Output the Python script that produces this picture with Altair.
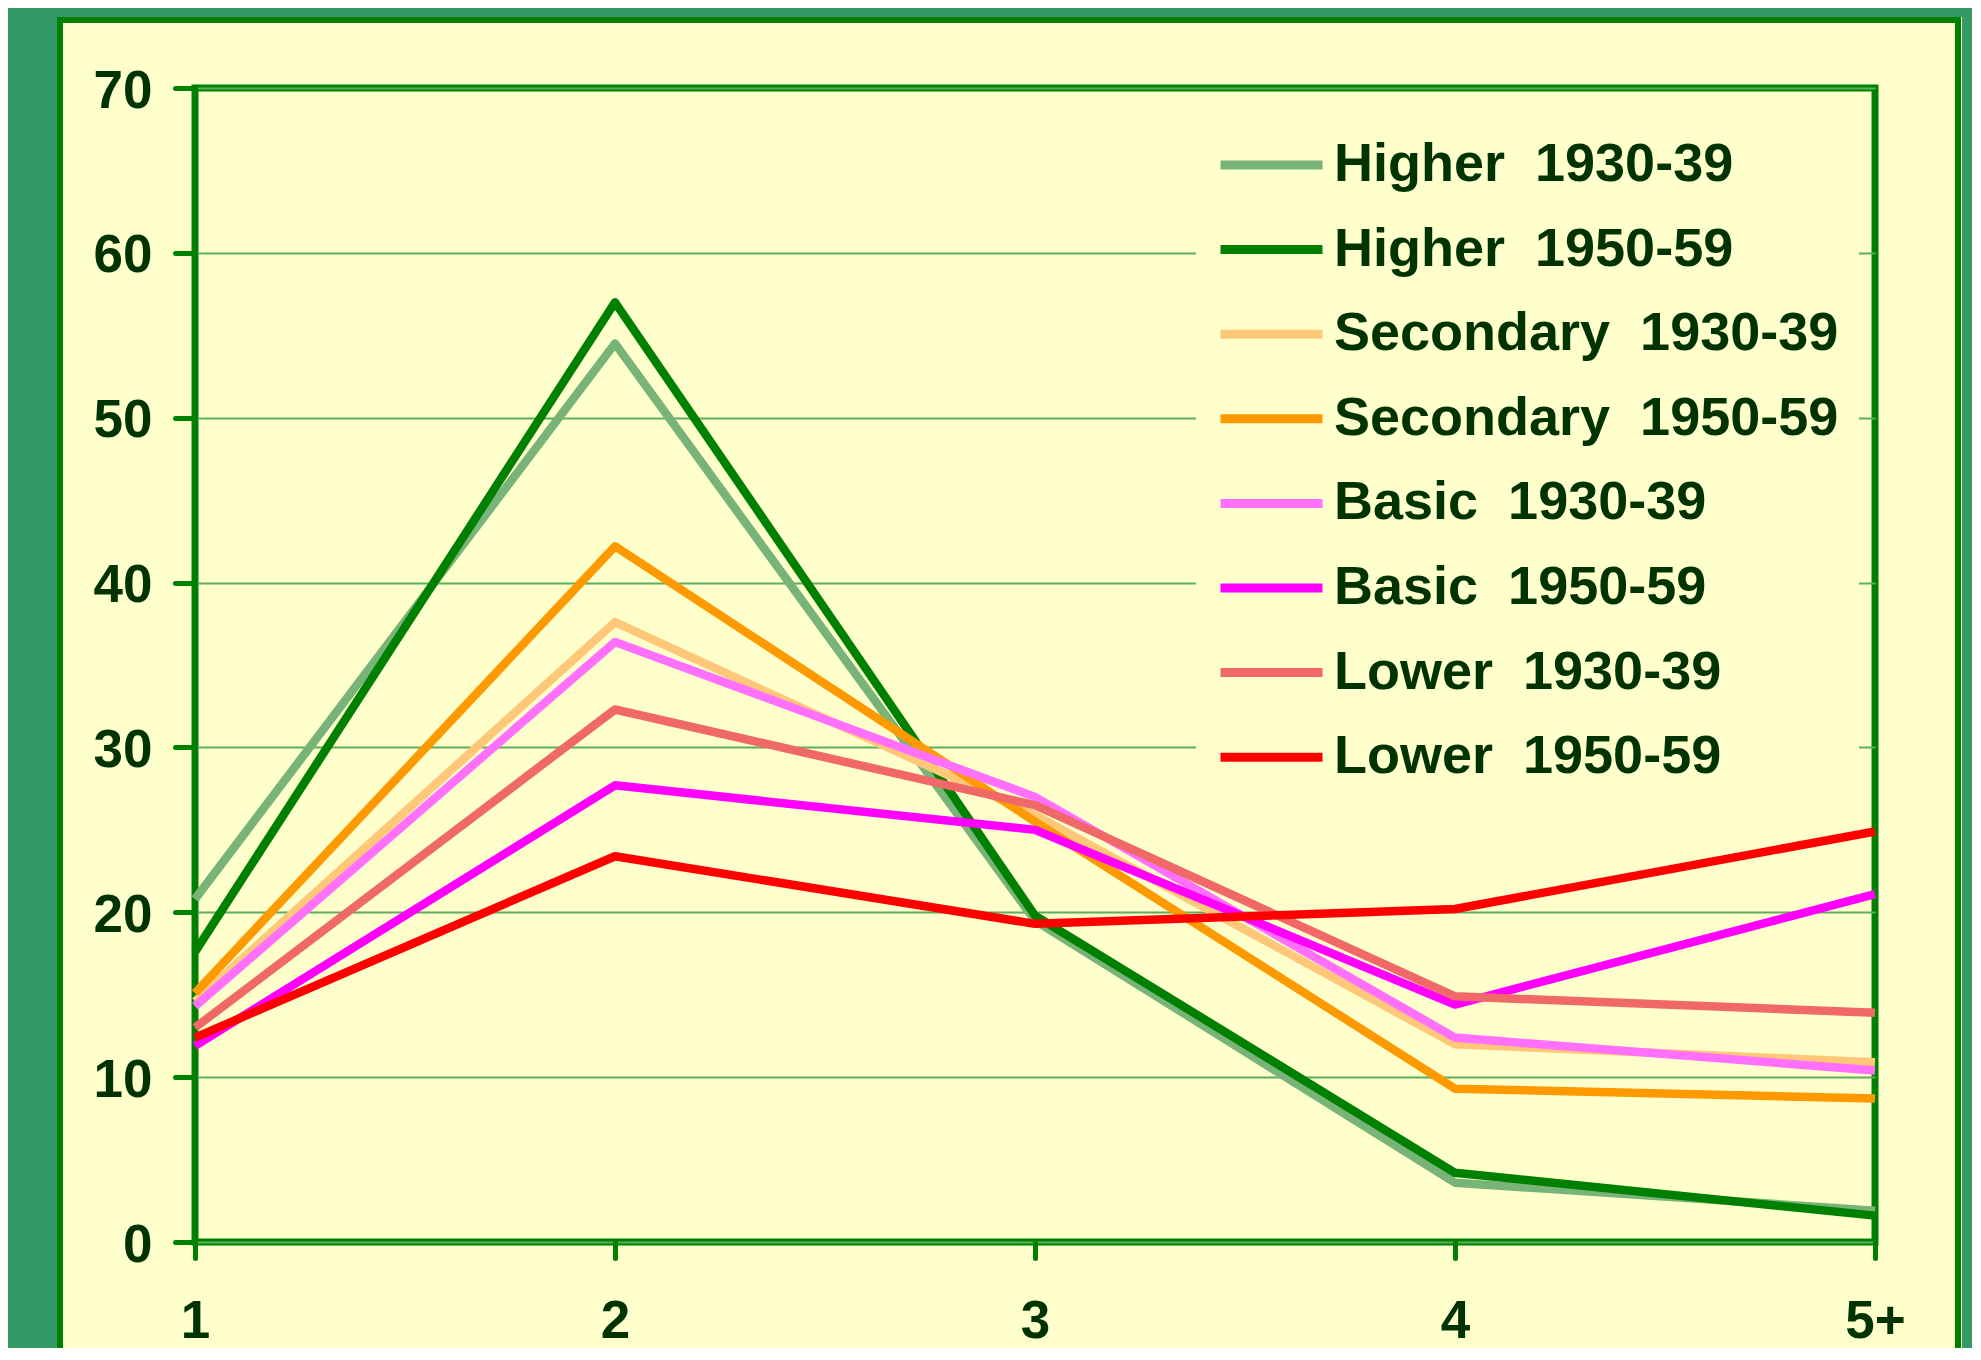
import altair as alt
import pandas as pd

# ---- data ----
categories = ["1", "2", "3", "4", "5+"]
series = [
    "Higher\u00a0 1930-39",
    "Higher\u00a0 1950-59",
    "Secondary\u00a0 1930-39",
    "Secondary\u00a0 1950-59",
    "Basic\u00a0 1930-39",
    "Basic\u00a0 1950-59",
    "Lower\u00a0 1930-39",
    "Lower\u00a0 1950-59",
]
higher_1930 = [20.8, 54.5, 19.5, 3.6, 1.9]
higher_1950 = [17.6, 57.0, 19.8, 4.2, 1.6]
secondary_1930 = [14.6, 37.6, 25.9, 12.0, 10.9]
secondary_1950 = [15.1, 42.2, 25.5, 9.3, 8.7]
basic_1930 = [14.3, 36.4, 27.0, 12.4, 10.4]
basic_1950 = [11.9, 27.7, 25.0, 14.4, 21.1]
lower_1930 = [13.0, 32.3, 26.5, 14.9, 13.9]
lower_1950 = [12.4, 23.4, 19.3, 20.2, 24.9]
colors = ["#78B478", "#008000", "#FFC878", "#FF9900",
          "#FF70FF", "#FF00FF", "#F06868", "#FF0000"]

all_values = [higher_1930, higher_1950, secondary_1930, secondary_1950,
              basic_1930, basic_1950, lower_1930, lower_1950]

rows = []
for name, vals in zip(series, all_values):
    for c, v in zip(categories, vals):
        rows.append({"Birth order": c, "Percent": v, "Series": name})
df = pd.DataFrame(rows)

FONT = "Liberation Sans"
TEXT = "#003300"
GREEN = "#008000"
OUTER = "#339966"
PANEL = "#FFFFCC"

lines = alt.Chart(df).mark_line(strokeWidth=8.5, strokeJoin="round", strokeCap="butt").encode(
    x=alt.X("Birth order:N", sort=categories,
            scale=alt.Scale(type="point", padding=0, domain=categories),
            axis=alt.Axis(title=None, labelAngle=0, grid=False, domain=False,
                          tickSize=16, tickWidth=5, tickColor=GREEN, tickCap="round",
                          labelPadding=37, labelFontSize=53)),
    y=alt.Y("Percent:Q", scale=alt.Scale(domain=[0, 70], nice=False, zero=True),
            axis=alt.Axis(title=None, values=list(range(0, 71, 10)), grid=True,
                          gridColor="#5DAE5D", gridWidth=2, domain=False,
                          tickSize=20, tickWidth=5, tickColor=GREEN, tickCap="round",
                          labelPadding=23, labelFontSize=53, labelOffset=3)),
    color=alt.Color("Series:N", sort=series,
                    scale=alt.Scale(domain=series, range=colors),
                    legend=alt.Legend(title=None, orient="none", legendX=1001, legendY=18,
                                      padding=20, fillColor=PANEL,
                                      symbolType="stroke", symbolSize=10404,
                                      symbolStrokeWidth=9, clipHeight=78, rowPadding=6.6,
                                      labelFontSize=54, labelFont=FONT,
                                      labelFontWeight="bold", labelColor=TEXT,
                                      labelLimit=0, labelOffset=7)),
)

deco = pd.DataFrame({"k": [0]})
left_strip = alt.Chart(deco).mark_rect(color=OUTER).encode(
    x=alt.value(-187), x2=alt.value(-138), y=alt.value(-80), y2=alt.value(1300))
top_strip = alt.Chart(deco).mark_rect(color=OUTER).encode(
    x=alt.value(-187), x2=alt.value(1800), y=alt.value(-80), y2=alt.value(-71))
right_strip = alt.Chart(deco).mark_rect(color=OUTER).encode(
    x=alt.value(1767), x2=alt.value(1800), y=alt.value(-80), y2=alt.value(1300))
border = alt.Chart(deco).mark_rect(fillOpacity=0, stroke=GREEN, strokeWidth=6).encode(
    x=alt.value(-135), x2=alt.value(1763), y=alt.value(-68), y2=alt.value(1400))

chart = alt.layer(left_strip, top_strip, right_strip, border, lines).properties(
    width=1680, height=1154,
    padding={"left": 187, "top": 80, "right": 97, "bottom": 106},
    autosize=alt.AutoSizeParams(type="none"),
    background=PANEL,
).configure_view(
    stroke=GREEN, strokeWidth=7
).configure_axis(
    labelFont=FONT, labelFontWeight="bold", labelColor=TEXT
)

chart.save("out.html", embed_options={"renderer": "svg", "actions": False})
